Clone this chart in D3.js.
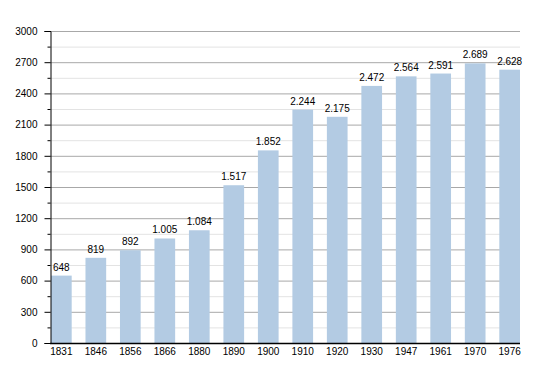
<!DOCTYPE html>
<html>
<head>
<meta charset="utf-8">
<script src="https://cdn.jsdelivr.net/npm/d3@7"></script>
<style>
  body { margin: 0; background: #fff; }
  text { font-family: "Liberation Sans", Arial, sans-serif; font-size: 10px; fill: #000; }
</style>
</head>
<body>
<figure id="bar" style="margin:0"></figure>
<script>
const years = ["1831", "1846", "1856", "1866", "1880", "1890", "1900", "1910", "1920", "1930", "1947", "1961", "1970", "1976"];
const population = [648, 819, 892, 1005, 1084, 1517, 1852, 2244, 2175, 2472, 2564, 2591, 2689, 2628];
const labels = ["648", "819", "892", "1.005", "1.084", "1.517", "1.852", "2.244", "2.175", "2.472", "2.564", "2.591", "2.689", "2.628"];
const majorTicks = [0, 300, 600, 900, 1200, 1500, 1800, 2100, 2400, 2700, 3000];
const minorTicks = [150, 450, 750, 1050, 1350, 1650, 1950, 2250, 2550, 2850];

const width = 550, height = 373;
const plotLeft = 50, plotRight = 520, plotTop = 31, plotBottom = 343;

const svg = d3.select("figure#bar")
  .append("svg")
  .attr("width", width)
  .attr("height", height);

// scales
const x = d3.scaleBand()
  .domain(years)
  .range([plotLeft + 1, plotRight])
  .paddingInner(0.4)
  .paddingOuter(0);

const y = d3.scaleLinear()
  .domain([0, 3000])
  .range([plotBottom, plotTop]);

// grid lines
svg.append("g")
  .selectAll("line")
  .data(minorTicks)
  .enter()
  .append("line")
  .attr("x1", plotLeft).attr("x2", plotRight)
  .attr("y1", d => y(d) + 0.5).attr("y2", d => y(d) + 0.5)
  .attr("stroke", "#e3e3e3");

svg.append("g")
  .selectAll("line")
  .data(majorTicks.filter(d => d > 0))
  .enter()
  .append("line")
  .attr("x1", plotLeft).attr("x2", plotRight)
  .attr("y1", d => y(d) + 0.5).attr("y2", d => y(d) + 0.5)
  .attr("stroke", "#a8a8a8");

// bars
svg.append("g")
  .selectAll("rect")
  .data(population)
  .enter()
  .append("rect")
  .attr("x", (d, i) => x(years[i]))
  .attr("y", d => y(d))
  .attr("width", x.bandwidth())
  .attr("height", d => plotBottom - y(d))
  .attr("fill", "#b3cbe3");

// value labels
svg.append("g")
  .selectAll("text")
  .data(population)
  .enter()
  .append("text")
  .attr("x", (d, i) => x(years[i]) + x.bandwidth() / 2)
  .attr("y", d => y(d) - 5)
  .attr("text-anchor", "middle")
  .text((d, i) => labels[i]);

// y axis
const yAxis = svg.append("g")
  .attr("transform", "translate(" + (plotLeft + 0.5) + ",0)")
  .call(d3.axisLeft(y).tickValues(majorTicks).tickSize(6).tickPadding(7).tickFormat(d3.format("d")));
yAxis.select(".domain").attr("stroke", "#000");
yAxis.selectAll("text").style("font-size", "10px");

svg.append("g")
  .attr("transform", "translate(" + (plotLeft + 0.5) + ",0)")
  .call(d3.axisLeft(y).tickValues(minorTicks).tickSize(3).tickFormat(""))
  .select(".domain").remove();

// x axis
const xAxis = svg.append("g")
  .attr("transform", "translate(0," + (plotBottom + 0.5) + ")")
  .call(d3.axisBottom(x).tickSize(0).tickPadding(4));
xAxis.select(".domain").attr("d", "M" + plotLeft + ",0H" + plotRight).attr("stroke", "#000").attr("stroke-width", 1.5);
xAxis.selectAll("text").style("font-size", "10px");
</script>
</body>
</html>
